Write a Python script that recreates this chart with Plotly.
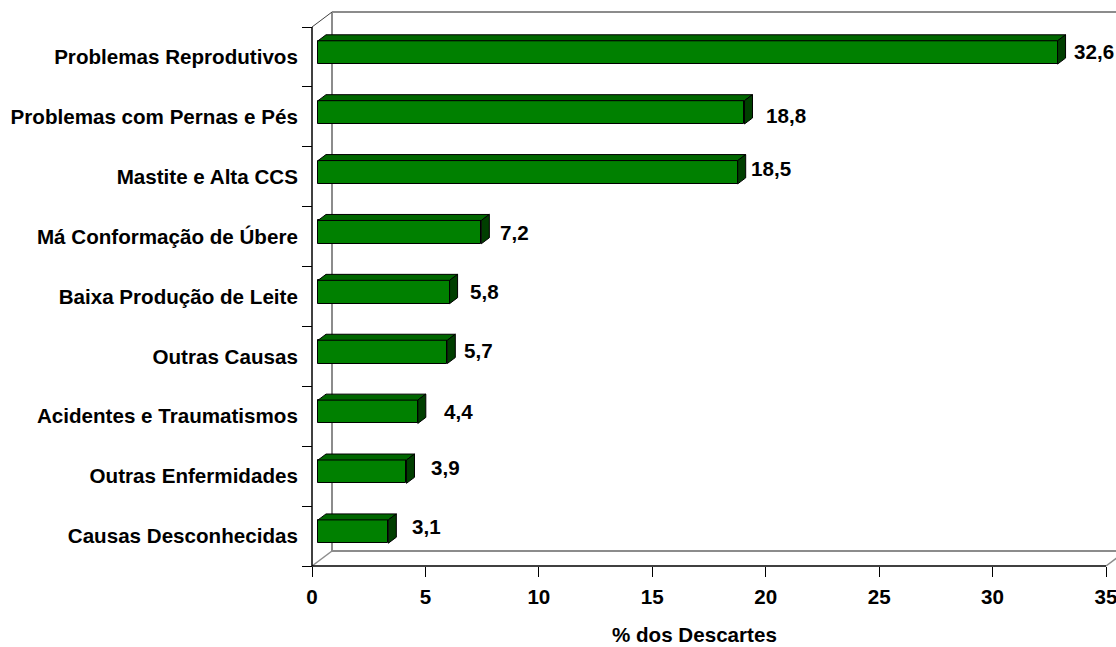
import plotly.graph_objects as go

# ---------------- data ----------------
categories = [
    "Problemas Reprodutivos",
    "Problemas com Pernas e Pés",
    "Mastite e Alta CCS",
    "Má Conformação de Úbere",
    "Baixa Produção de Leite",
    "Outras Causas",
    "Acidentes e Traumatismos",
    "Outras Enfermidades",
    "Causas Desconhecidas",
]
values = [32.6, 18.8, 18.5, 7.2, 5.8, 5.7, 4.4, 3.9, 3.1]
x_ticks = [0, 5, 10, 15, 20, 25, 30, 35]
x_title = "% dos Descartes"

# ---------------- style / layout ----------------
label_dx = [6, 12, 3, 9, 10, 7, 16, 15, 14]   # px nudges of value labels
label_dy = [1, -3, 4, 0, 1, 1, 0, 4, 5]

W, H = 1116, 647
ML, MR, MT, MB = 300, 0, 4, 67
ORIGIN_X_PX, ORIGIN_Y_PX = 312, 566       # front-plane origin on screen
X_END_PX, TOP_PX = 1106, 27               # front-plane x max / top
DEPTH_X_PX, DEPTH_Y_PX = 20, 15           # 3-D depth offset
BAR_PX = 23.3                             # bar thickness
TITLE_X_PX, TITLE_Y_PX = 694, 634         # axis title centre

FONT = "Liberation Sans, Arial, sans-serif"
FS = 20.6
GREEN_FRONT, GREEN_TOP, GREEN_SIDE = "#008000", "#006600", "#003f00"
WALL = "#8c8c8c"

n = len(categories)
X_MAX = x_ticks[-1]
px_x = (X_END_PX - ORIGIN_X_PX) / X_MAX
px_u = (ORIGIN_Y_PX - TOP_PX) / n

x_lo = (ML - ORIGIN_X_PX) / px_x
x_hi = (W - MR - ORIGIN_X_PX) / px_x
u_lo = -((H - MB) - ORIGIN_Y_PX) / px_u
u_hi = (ORIGIN_Y_PX - MT) / px_u

DX = DEPTH_X_PX / px_x
DU = DEPTH_Y_PX / px_u
F0, F1 = 0.3, 0.7
BH = BAR_PX / px_u

centers = [n - 0.5 - i for i in range(n)]
front_u = [c + F0 * DU for c in centers]

fig = go.Figure()

# front faces (bars)
fig.add_trace(go.Bar(
    y=front_u, x=values, base=F0 * DX, orientation="h", width=BH,
    marker=dict(color=GREEN_FRONT, line=dict(color="black", width=1)),
    hoverinfo="skip", showlegend=False,
))

# top and side faces
tx, ty, sx, sy = [], [], [], []
for v, fu in zip(values, front_u):
    top = fu + BH / 2
    bot = fu - BH / 2
    d = (F1 - F0)
    tx += [F0 * DX, v + F0 * DX, v + F1 * DX, F1 * DX, F0 * DX, None]
    ty += [top, top, top + d * DU, top + d * DU, top, None]
    sx += [v + F0 * DX, v + F0 * DX, v + F1 * DX, v + F1 * DX, v + F0 * DX, None]
    sy += [bot, top, top + d * DU, bot + d * DU, bot, None]

fig.add_trace(go.Scatter(x=tx, y=ty, mode="lines", fill="toself", fillcolor=GREEN_TOP,
                         line=dict(color="black", width=1), hoverinfo="skip", showlegend=False))
fig.add_trace(go.Scatter(x=sx, y=sy, mode="lines", fill="toself", fillcolor=GREEN_SIDE,
                         line=dict(color="black", width=1), hoverinfo="skip", showlegend=False))

# walls / floor / front axes (below the bars)
def seg(x0, y0, x1, y1, color, width):
    return dict(type="line", xref="x", yref="y", x0=x0, y0=y0, x1=x1, y1=y1,
                line=dict(color=color, width=width), layer="below")

shapes = [
    seg(DX, n + DU, X_MAX + DX, n + DU, WALL, 2),        # back wall top
    seg(DX, DU, DX, n + DU, WALL, 2),                    # back wall left
    seg(DX, DU, X_MAX + DX, DU, WALL, 2),                # floor back edge
    seg(X_MAX + DX, DU, X_MAX + DX, n + DU, WALL, 2),    # back wall right
    seg(X_MAX, 0, X_MAX + DX, DU, WALL, 1.5),            # floor right diagonal
    seg(0, 0, DX, DU, WALL, 1.5),                        # floor left diagonal
    seg(0, n, DX, n + DU, "#404040", 1),                 # side wall top diagonal
    seg(0, 0, 0, n, "black", 1.5),                       # front vertical axis
    seg(0, 0, X_MAX, 0, "black", 1.5),                   # front horizontal axis
]

bold = dict(family=FONT, size=FS, color="black", weight="bold")

# value labels
annotations = []
for i, (v, fu) in enumerate(zip(values, front_u)):
    annotations.append(dict(
        x=v + F1 * DX, y=fu, xref="x", yref="y",
        text=f"{v:.1f}".replace(".", ","), showarrow=False,
        xanchor="left", yanchor="middle", xshift=label_dx[i], yshift=label_dy[i],
        font=bold,
    ))

# axis title
annotations.append(dict(
    x=(TITLE_X_PX - ORIGIN_X_PX) / px_x, xref="x",
    y=(H - MB - TITLE_Y_PX) / (H - MT - MB), yref="paper",
    text=x_title, showarrow=False, xanchor="center", yanchor="middle", font=bold,
))

fig.update_layout(
    width=W, height=H,
    margin=dict(l=ML, r=MR, t=MT, b=MB, pad=0),
    paper_bgcolor="white", plot_bgcolor="white",
    shapes=shapes, annotations=annotations,
    showlegend=False,
    font=dict(family=FONT, size=FS, color="black"),
    bargap=0,
)

fig.update_xaxes(
    range=[x_lo, x_hi], anchor="free", position=(0 - u_lo) / (u_hi - u_lo),
    tickmode="array", tickvals=x_ticks, ticktext=[str(t) for t in x_ticks],
    ticks="outside", ticklen=10, tickwidth=1, tickcolor="black",
    ticklabelstandoff=2, ticklabeloverflow="allow",
    tickfont=bold,
    showgrid=False, zeroline=False, showline=False,
)
fig.update_yaxes(
    range=[u_lo, u_hi], anchor="free", position=(0 - x_lo) / (x_hi - x_lo),
    tickmode="array", tickvals=centers, ticktext=categories,
    ticks="outside", ticklen=10, tickcolor="rgba(0,0,0,0)",
    minor=dict(tickmode="array", tickvals=list(range(n + 1)), ticks="outside",
               ticklen=10, tickwidth=1, tickcolor="black", showgrid=False),
    tickfont=bold,
    showgrid=False, zeroline=False, showline=False,
)

fig.write_html(
    "out.html",
    config={"displayModeBar": False},
    post_script="document.body.style.margin='0';document.body.style.overflow='hidden';",
)
